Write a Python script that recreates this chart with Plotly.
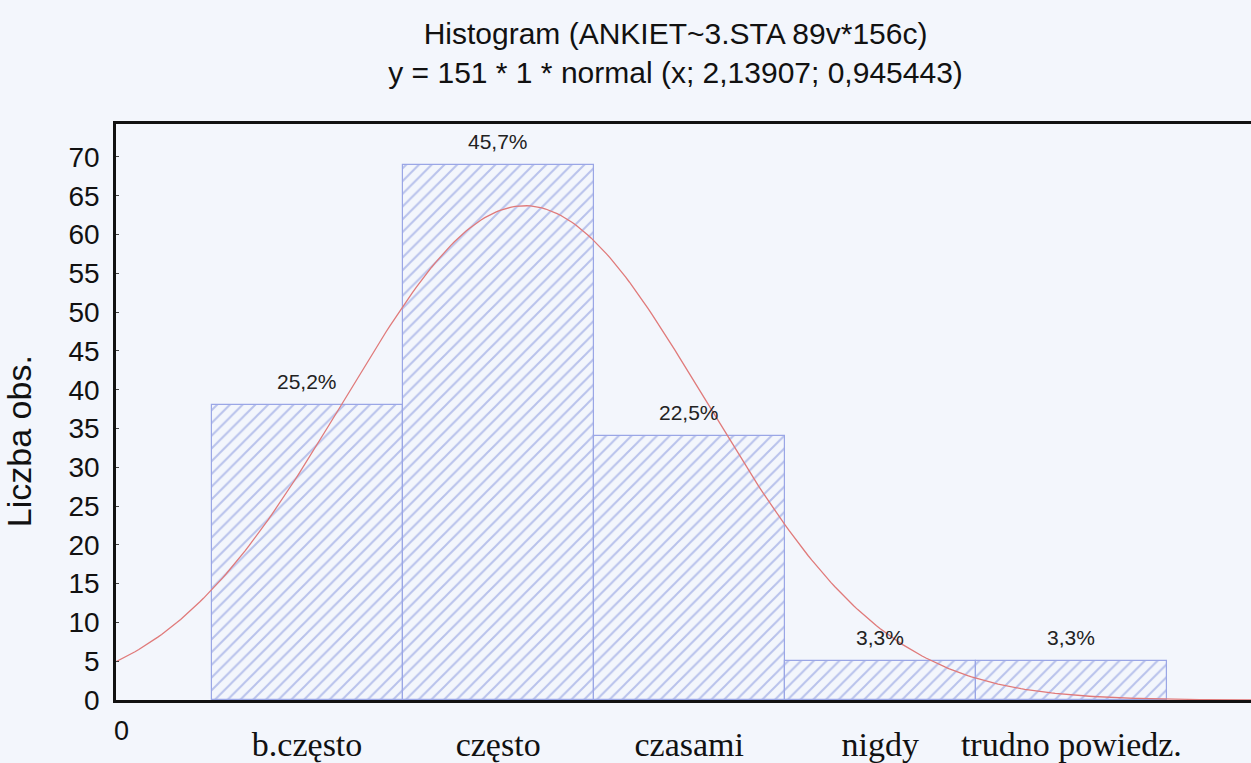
import numpy as np
import plotly.graph_objects as go

# dane z wykresu
kategorie = ["b.często", "często", "czasami", "nigdy", "trudno powiedz."]
pozycje = [1, 2, 3, 4, 5]
liczebnosci = [38, 69, 34, 5, 5]
procenty = ["25,2%", "45,7%", "22,5%", "3,3%", "3,3%"]

# parametry krzywej normalnej z tytułu: y = 151 * 1 * normal(x; 2,13907; 0,945443)
n_obs = 151
srednia = 2.13907
odch_std = 0.945443

tlo = "#f3f6fc"
niebieski = "#7d8ddb"
arial = "Liberation Sans, Arial"

xs = np.linspace(0, 5.95, 300)
ys = n_obs * 1 * np.exp(-0.5 * ((xs - srednia) / odch_std) ** 2) / (odch_std * np.sqrt(2 * np.pi))

fig = go.Figure()

fig.add_trace(go.Bar(
    x=pozycje,
    y=liczebnosci,
    width=1,
    marker=dict(
        color=tlo,
        line=dict(color="#9aa6e6", width=1.2),
        pattern=dict(shape="/", fgcolor=niebieski, bgcolor=tlo, size=9, solidity=0.22),
    ),
    hoverinfo="skip",
))

fig.add_trace(go.Scatter(
    x=xs,
    y=ys,
    mode="lines",
    line=dict(color="#e07a7a", width=1.3),
    hoverinfo="skip",
))

# etykiety procentowe nad słupkami
for xp, yv, txt in zip(pozycje, liczebnosci, procenty):
    fig.add_annotation(
        x=xp, y=yv, text=txt, showarrow=False,
        yanchor="bottom", yshift=10,
        font=dict(family=arial, size=21, color="#222222"),
    )

fig.add_annotation(
    x=0, y=0, xref="x", yref="y",
    text="0", showarrow=False,
    xanchor="center", yanchor="top", yshift=-14, xshift=5,
    font=dict(family=arial, size=27, color="#111111"),
)

fig.add_annotation(
    x=-0.079, y=0.45, xref="paper", yref="paper",
    text="Liczba obs.", showarrow=False, textangle=-90,
    xanchor="center", yanchor="middle", xshift=-8,
    font=dict(family=arial, size=34, color="#111111"),
)

fig.update_layout(
    width=1251,
    height=763,
    margin=dict(l=116, r=0, t=124, b=63),
    paper_bgcolor=tlo,
    plot_bgcolor=tlo,
    showlegend=False,
    bargap=0,
    title=dict(
        text="Histogram (ANKIET~3.STA 89v*156c)<br>y = 151 * 1 * normal (x; 2,13907; 0,945443)",
        x=0.54, xanchor="center", y=0.942, yanchor="middle",
        xref="container", yref="container",
        font=dict(family=arial, size=30, color="#111111"),
    ),
    xaxis=dict(
        range=[0, 5.94],
        tickvals=pozycje,
        ticktext=kategorie,
        tickfont=dict(family="Liberation Serif, Times New Roman", size=34, color="#111111"),
        ticks="",
        ticklabelstandoff=12,
        showgrid=False,
        zeroline=False,
        showline=True,
        linecolor="#111111",
        linewidth=2.5,
        mirror=True,
        automargin=False,
    ),
    yaxis=dict(
        range=[0, 74.25],
        tickvals=list(range(0, 75, 5)),
        ticks="inside",
        ticklen=3,
        tickcolor="#444444",
        tickfont=dict(family=arial, size=28, color="#111111"),
        ticklabelstandoff=8,
        showgrid=False,
        zeroline=False,
        showline=True,
        linecolor="#111111",
        linewidth=2.5,
        automargin=False,
    ),
)

# bez domyślnego marginesu strony, żeby wykres wypełnił całe okno
fig.write_html(
    "out.html",
    config={"displayModeBar": False},
    post_script="document.body.style.margin='0';document.body.style.background='#f3f6fc';document.body.style.overflow='hidden';",
)
